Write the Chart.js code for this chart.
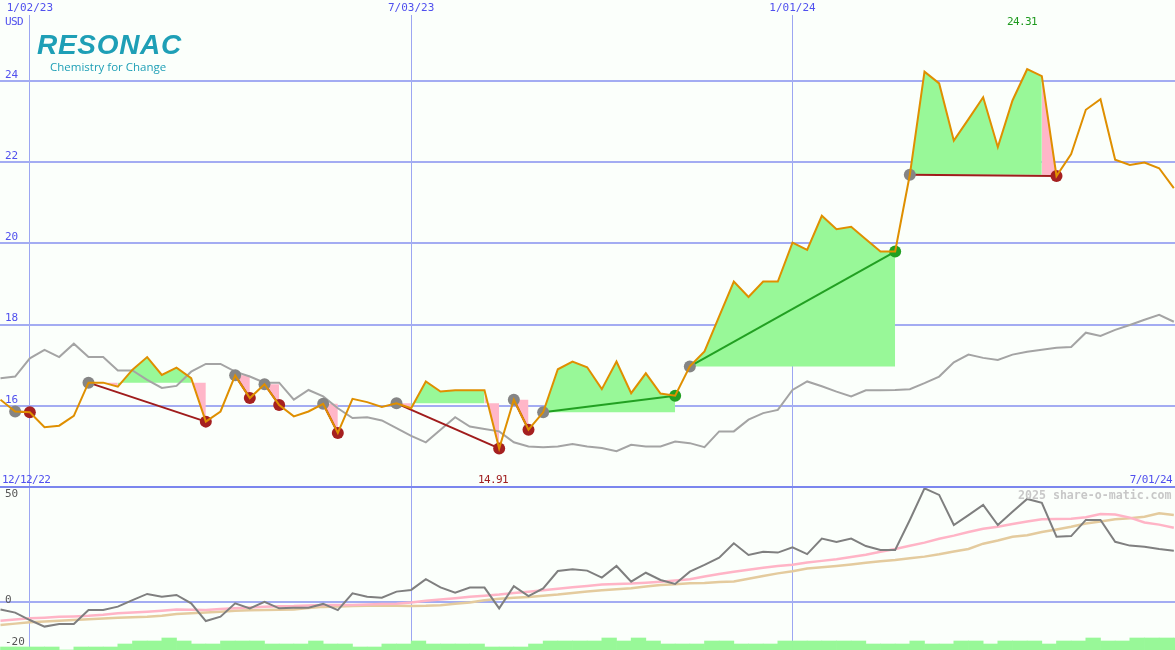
<!DOCTYPE html>
<html>
<head>
<meta charset="utf-8">
<script src="https://cdn.jsdelivr.net/npm/chart.js@4.4.1/dist/chart.umd.min.js"></script>
<style>
body{margin:0;background:#fbfffb;width:1175px;height:650px;overflow:hidden;position:relative;font-family:"DejaVu Sans Mono",monospace}
canvas{position:absolute;left:0}
#cTop{top:0}
#cBot{top:488px}
#sep{position:absolute;left:0;top:486px;width:1175px;height:2px;background:#7b86ee}
.t{position:absolute;font-size:11px;line-height:11px;letter-spacing:-0.6px;white-space:nowrap}
.blue{color:#5050ee}
</style>
</head>
<body>
<canvas id="cTop" width="1175" height="487"></canvas>
<canvas id="cBot" width="1175" height="162"></canvas>
<div id="sep"></div>

<div style="position:absolute;left:37px;top:31px;font:italic bold 28px 'Liberation Sans',Arial,sans-serif;line-height:28px;letter-spacing:0.7px;color:#1e9fb6">RESONAC</div>
<div style="position:absolute;left:50px;top:61px;font:11.5px 'Open Sans',sans-serif;line-height:11.5px;color:#1e9fb6">Chemistry for Change</div>

<div class="t blue" style="left:5px;top:16px">USD</div>
<div class="t" style="left:1007px;top:16px;color:#1f9a1f">24.31</div>
<div class="t" style="left:478px;top:474px;color:#a02020">14.91</div>
<div class="t blue" style="left:2px;top:474px">12/12/22</div>
<div class="t blue" style="right:3px;top:474px">7/01/24</div>
<div style="position:absolute;left:1018px;top:490px;font:bold 11.6px 'DejaVu Sans Mono',monospace;line-height:11.6px;color:#c8c8c8;white-space:nowrap">2025 share-o-matic.com</div>

<script>
// weekly closes, week 0 = 12/19/22
const price = [16.15,15.86,15.84,15.47,15.51,15.75,16.57,16.57,16.47,16.89,
  17.20,16.76,16.94,16.68,15.61,15.86,16.75,16.19,16.53,16.02,
  15.74,15.86,16.05,15.33,16.17,16.09,15.97,16.06,15.94,16.60,
  16.35,16.38,16.38,16.38,14.95,16.15,15.41,15.84,16.90,17.09,
  16.95,16.41,17.09,16.31,16.80,16.30,16.25,16.97,17.34,18.20,
  19.06,18.68,19.06,19.06,20.02,19.84,20.68,20.35,20.41,20.10,
  19.80,19.80,21.69,24.23,23.94,22.53,23.06,23.60,22.37,23.52,
  24.29,24.12,21.66,22.20,23.29,23.55,22.06,21.93,21.99,21.85,21.36];
// grey comparison line
const bench = [16.68,16.72,17.17,17.38,17.20,17.53,17.20,17.20,16.87,16.87,
  16.64,16.44,16.49,16.84,17.03,17.03,16.84,16.72,16.57,16.57,
  16.15,16.39,16.23,15.94,15.70,15.72,15.64,15.45,15.26,15.10,
  15.41,15.72,15.49,15.43,15.37,15.10,15.00,14.98,15.00,15.06,
  15.00,14.96,14.88,15.04,15.00,15.00,15.12,15.08,14.98,15.37,
  15.37,15.66,15.82,15.90,16.39,16.60,16.48,16.35,16.23,16.38,
  16.38,16.39,16.41,16.56,16.72,17.07,17.26,17.18,17.13,17.26,
  17.33,17.38,17.43,17.45,17.80,17.72,17.87,17.99,18.12,18.24,18.07];
// lower panel
const momentum = [-3.5,-5.0,-8.5,-11.6,-10.4,-10.4,-3.8,-3.8,-2.2,0.9,
  3.8,2.5,3.3,-0.6,-9.0,-6.9,-0.6,-3.0,0.1,-3.0,
  -2.7,-2.7,-0.9,-3.8,4.1,2.5,2.0,4.9,5.7,10.8,
  6.9,4.4,6.8,6.8,-3.0,7.5,2.8,6.4,14.6,15.4,
  14.8,11.5,17.0,9.6,13.8,10.4,8.5,14.3,17.5,20.9,
  27.7,22.2,23.7,23.3,25.8,22.6,29.9,28.3,29.9,26.4,
  24.5,24.5,38.7,53.6,50.5,36.3,41.0,45.8,36.3,42.6,
  48.6,46.8,30.8,31.1,38.7,38.7,28.4,26.6,26.1,25.0,24.2];
const avgFast = [-8.8,-8.3,-7.7,-7.4,-7.0,-6.8,-6.5,-6.0,-5.3,-5.0,
  -4.6,-4.1,-3.5,-3.6,-3.8,-3.3,-3.0,-2.6,-2.2,-2.0,
  -1.9,-1.6,-1.4,-1.4,-1.4,-1.2,-1.0,-0.8,-0.2,0.6,
  1.2,1.8,2.5,3.0,3.5,4.2,4.8,5.5,6.3,7.0,
  7.6,8.3,8.5,8.7,9.1,9.6,10.1,10.7,12.0,13.2,
  14.3,15.2,16.2,17.0,17.6,18.6,19.4,20.2,21.2,22.3,
  23.7,25.0,26.5,28.0,29.8,31.3,33.0,34.5,35.5,36.8,
  38.0,39.0,39.2,39.3,40.0,41.5,41.3,39.8,37.5,36.5,35.0];
const avgSlow = [-10.8,-10.2,-9.6,-9.2,-8.8,-8.5,-8.1,-7.8,-7.4,-7.2,
  -7.0,-6.5,-5.7,-5.3,-5.0,-4.6,-4.1,-3.9,-3.8,-3.6,
  -3.5,-2.8,-2.3,-2.1,-1.9,-1.8,-1.7,-1.8,-1.9,-1.8,
  -1.5,-0.8,-0.2,0.8,1.5,2.0,2.4,3.0,3.5,4.2,
  4.9,5.5,6.0,6.5,7.3,8.0,8.4,8.8,9.0,9.4,
  9.7,11.0,12.3,13.5,14.5,15.8,16.4,17.0,17.7,18.5,
  19.2,19.8,20.6,21.4,22.5,23.8,25.0,27.5,29.0,30.8,
  31.5,33.0,34.2,35.5,37.0,38.0,39.0,39.5,40.2,41.8,41.0];
const volume = [1,1,1,1,0,1,1,1,2,3, 3,4,3,2,2,3,3,3,2,2,
  2,3,2,2,1,1,2,2,3,2, 2,2,2,1,1,1,2,3,3,3,
  3,4,3,4,3,2,2,2,3,3, 2,2,2,3,3,3,3,3,3,2,
  2,2,3,2,2,3,3,2,3,3, 3,2,3,3,4,3,3,4,4,4,4];
// trades: entry week -> exit week
const entries = [1,6,16,18,22,27,35,37,47,62];
const exits   = [2,14,17,19,23,34,36,46,61,72];

const dateTicks = [2,28,54];
const dateLabels = ['1/02/23','7/03/23','1/01/24'];
const priceTicks = [16,18,20,22,24];
const oscTicks = [50,0,-20];

const GREEN='#98f898', PINK='#ffb6c8', GRID='#a3acf2', VGRID='#9ca6f2', BLUE='#5050ee';
const MONO={family:'DejaVu Sans Mono',size:11};
const pts = arr => arr.map((v,i)=>({x:i,y:v}));

const xBase = {type:'linear',min:-0.034,max:80.08,offset:false,
  afterBuildTicks:s=>{s.ticks=dateTicks.map(v=>({value:v}));},
  grid:{color:VGRID,lineWidth:1,drawTicks:false,offset:false},border:{display:false}};

// ---- upper panel
const ds = [];
ds.push({data:pts(price),borderColor:'#df8f00',borderWidth:2,pointRadius:0,tension:0,order:0});
ds.push({data:pts(bench),borderColor:'#a4a4a4',borderWidth:2,pointRadius:0,tension:0,order:3});
entries.forEach((e,k)=>{
  const x=exits[k], lvl=price[e], win=price[x]>price[e];
  ds.push({data:price.slice(e,x+1).map((v,j)=>({x:e+j,y:v})),borderWidth:0,borderColor:'transparent',
    pointRadius:0,backgroundColor:GREEN,fill:{value:lvl},
    segment:{backgroundColor:c=>c.p1.parsed.y>=lvl?GREEN:PINK},order:4});
  ds.push({data:[{x:e,y:price[e]},{x:x,y:price[x]}],borderColor:win?'#22a022':'#a01c1c',
    borderWidth:2,pointRadius:0,order:2});
});
ds.push({data:entries.map(e=>({x:e,y:price[e]})),showLine:false,pointRadius:6,
  pointBorderWidth:0,pointBackgroundColor:'#858585',order:1});
ds.push({data:exits.map(x=>({x:x,y:price[x]})),showLine:false,pointRadius:6,pointBorderWidth:0,
  pointBackgroundColor:exits.map((x,k)=>price[x]>price[entries[k]]?'#22a022':'#a52020'),order:1});

new Chart(document.getElementById('cTop'),{
  type:'line',
  data:{datasets:ds},
  options:{responsive:false,animation:false,layout:{padding:0,autoPadding:false},
    plugins:{legend:{display:false},tooltip:{enabled:false}},
    scales:{
      x:Object.assign({},xBase,{position:'top',
        afterFit:s=>{s.height=15;s.paddingLeft=0;s.paddingRight=0;},
        ticks:{padding:0,maxRotation:0,autoSkip:false,color:BLUE,font:MONO,callback:(v,i)=>dateLabels[i]}}),
      y:{min:14,max:25.625,position:'left',
        afterBuildTicks:s=>{s.ticks=priceTicks.map(v=>({value:v}));},
        afterFit:s=>{s.width=0;s.paddingTop=0;s.paddingBottom=0;},
        grid:{color:GRID,lineWidth:2,drawTicks:false},border:{display:false},
        ticks:{mirror:true,padding:5,labelOffset:-6,color:BLUE,font:MONO,callback:v=>String(v)}}
    }}
});

// ---- lower panel
new Chart(document.getElementById('cBot'),{
  type:'line',
  data:{datasets:[
    {data:pts(momentum),borderColor:'#7f7f7f',borderWidth:2,pointRadius:0,tension:0,order:0},
    {data:pts(avgFast),borderColor:'#ffb4c6',borderWidth:2.5,pointRadius:0,tension:0,order:1},
    {data:pts(avgSlow),borderColor:'#e4cb9e',borderWidth:2.5,pointRadius:0,tension:0,order:2},
    {type:'bar',data:volume.map((v,i)=>({x:i+0.5,y:v})),yAxisID:'v',backgroundColor:GREEN,
      borderWidth:0,categoryPercentage:1,barPercentage:1,grouped:false,order:3}
  ]},
  options:{responsive:false,animation:false,layout:{padding:0,autoPadding:false},
    plugins:{legend:{display:false},tooltip:{enabled:false}},
    scales:{
      x:Object.assign({},xBase,{position:'bottom',
        afterFit:s=>{s.height=0;s.paddingLeft=0;s.paddingRight=0;},
        ticks:{display:false}}),
      y:{min:-22.64,max:53.77,position:'left',
        afterBuildTicks:s=>{s.ticks=oscTicks.map(v=>({value:v}));},
        afterFit:s=>{s.width=0;s.paddingTop=0;s.paddingBottom=0;},
        grid:{color:c=>c.tick&&c.tick.value===0?GRID:'transparent',lineWidth:2,drawTicks:false},
        border:{display:false},
        ticks:{mirror:true,padding:5,labelOffset:-2,color:'#555555',font:MONO,callback:v=>String(v)}},
      v:{display:false,min:0,max:54}
    }}
});
</script>
</body>
</html>
